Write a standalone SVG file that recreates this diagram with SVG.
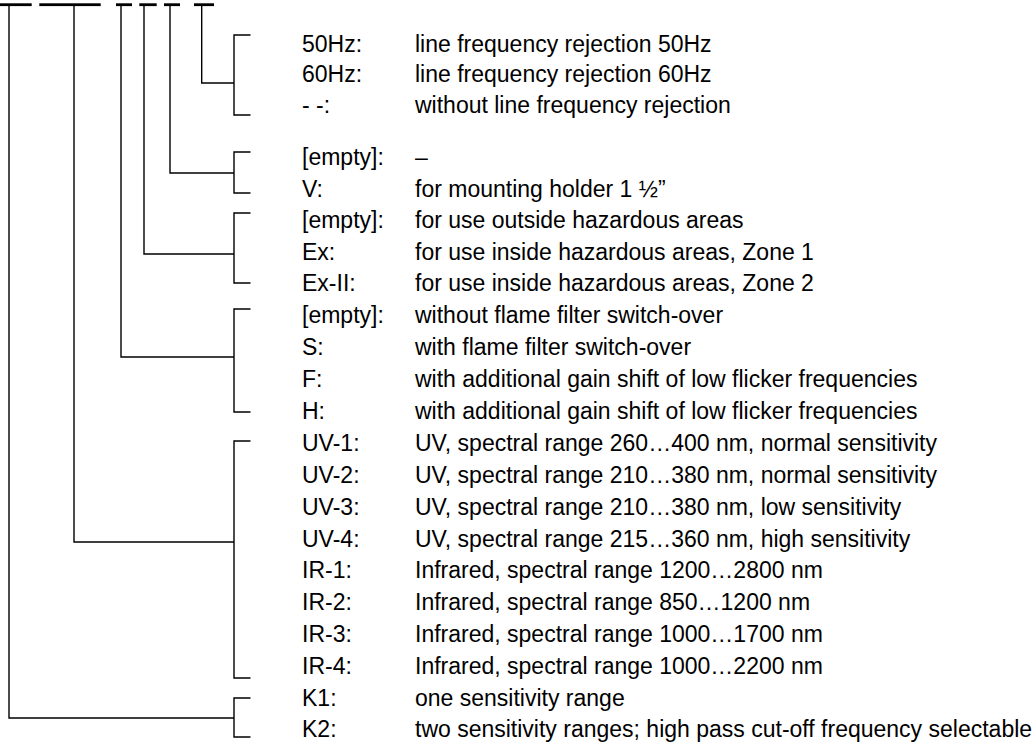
<svg xmlns="http://www.w3.org/2000/svg" width="1033" height="742" viewBox="0 0 1033 742">
<style>
text{font-family:"Liberation Sans",Arial,sans-serif;font-size:23px;fill:#000}
.c{fill:none;stroke:#000;stroke-width:1.4}
.bar{fill:#000}
</style>
<rect width="1033" height="742" fill="#fff"/>
<g id="header">
<rect class="bar" x="0" y="3.3" width="31.7" height="2.8"/>
<rect class="bar" x="39.3" y="3.3" width="61.4" height="2.8"/>
<rect class="bar" x="116" y="3.3" width="16" height="2.8"/>
<rect class="bar" x="139.3" y="3.3" width="17.4" height="2.8"/>
<rect class="bar" x="164" y="3.3" width="16" height="2.8"/>
<rect class="bar" x="194" y="3.3" width="20" height="2.8"/>
</g>
<g id="connectors">
<path class="c" d="M201.7,6 V83 H234 M250.5,35 H234 V115 H250.5"/>
<path class="c" d="M170,6 V173 H234 M250.5,152 H234 V193 H250.5"/>
<path class="c" d="M144,6 V254 H234 M250.5,213 H234 V283 H250.5"/>
<path class="c" d="M121,6 V357 H234 M250.5,309 H234 V412 H250.5"/>
<path class="c" d="M74,6 V542 H234 M250.5,441 H234 V678 H250.5"/>
<path class="c" d="M9,6 V718 H234 M250.5,698 H234 V737 H250.5"/>
</g>
<g id="freq">
<text x="302" y="51.5">50Hz:</text><text x="415" y="51.5">line frequency rejection 50Hz</text>
<text x="302" y="82">60Hz:</text><text x="415" y="82">line frequency rejection 60Hz</text>
<text x="302" y="112.5">- -:</text><text x="415" y="112.5">without line frequency rejection</text>
</g>
<g id="mount">
<text x="302" y="165">[empty]:</text><text x="415" y="165">–</text>
<text x="302" y="196.5">V:</text><text x="415" y="196.5">for mounting holder 1 ½”</text>
</g>
<g id="ex">
<text x="302" y="228">[empty]:</text><text x="415" y="228">for use outside hazardous areas</text>
<text x="302" y="259.5">Ex:</text><text x="415" y="259.5">for use inside hazardous areas, Zone 1</text>
<text x="302" y="291">Ex-II:</text><text x="415" y="291">for use inside hazardous areas, Zone 2</text>
</g>
<g id="filter">
<text x="302" y="323">[empty]:</text><text x="415" y="323">without flame filter switch-over</text>
<text x="302" y="354.5">S:</text><text x="415" y="354.5">with flame filter switch-over</text>
<text x="302" y="386.5">F:</text><text x="415" y="386.5">with additional gain shift of low flicker frequencies</text>
<text x="302" y="419">H:</text><text x="415" y="419">with additional gain shift of low flicker frequencies</text>
</g>
<g id="sensor">
<text x="302" y="451">UV-1:</text><text x="415" y="451">UV, spectral range 260…400 nm, normal sensitivity</text>
<text x="302" y="483">UV-2:</text><text x="415" y="483">UV, spectral range 210…380 nm, normal sensitivity</text>
<text x="302" y="514.8">UV-3:</text><text x="415" y="514.8">UV, spectral range 210…380 nm, low sensitivity</text>
<text x="302" y="546.6">UV-4:</text><text x="415" y="546.6">UV, spectral range 215…360 nm, high sensitivity</text>
<text x="302" y="578.4">IR-1:</text><text x="415" y="578.4">Infrared, spectral range 1200…2800 nm</text>
<text x="302" y="610.2">IR-2:</text><text x="415" y="610.2">Infrared, spectral range 850…1200 nm</text>
<text x="302" y="642">IR-3:</text><text x="415" y="642">Infrared, spectral range 1000…1700 nm</text>
<text x="302" y="673.8">IR-4:</text><text x="415" y="673.8">Infrared, spectral range 1000…2200 nm</text>
</g>
<g id="range">
<text x="302" y="705.6">K1:</text><text x="415" y="705.6">one sensitivity range</text>
<text x="302" y="737.4">K2:</text><text x="415" y="737.4">two sensitivity ranges; high pass cut-off frequency selectable</text>
</g>
</svg>
